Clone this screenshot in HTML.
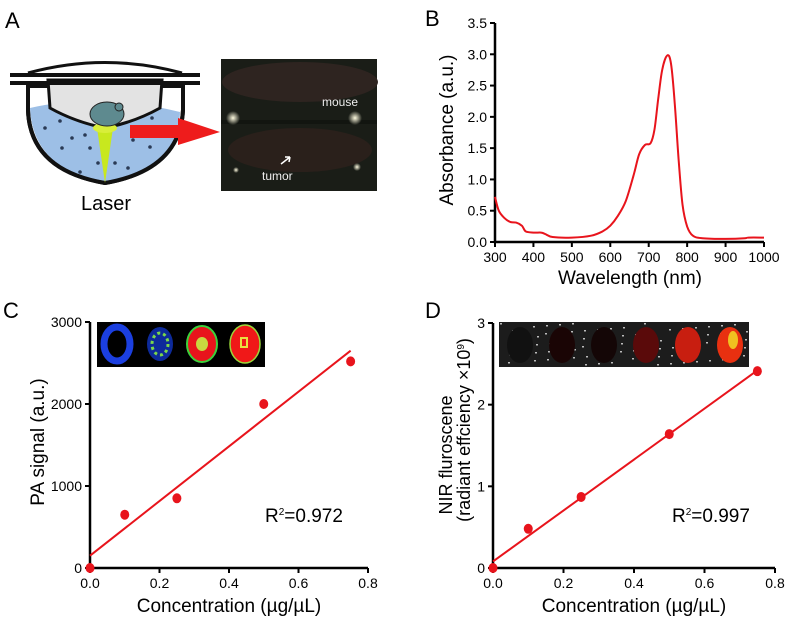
<!DOCTYPE html>
<html><head><meta charset="utf-8"><style>
body{margin:0;background:#fff;width:787px;height:620px;overflow:hidden;font-family:"Liberation Sans",sans-serif}
svg{position:absolute;left:0;top:0}
</style></head><body>
<svg width="787" height="620" viewBox="0 0 787 620" font-family="Liberation Sans, sans-serif">
<defs>
<radialGradient id="gl" cx="0.5" cy="0.5" r="0.5"><stop offset="0" stop-color="#fffbe0"/><stop offset="1" stop-color="#fffbe0" stop-opacity="0"/></radialGradient>
</defs>
<text x="5" y="28" font-size="22">A</text>
<text x="425" y="26" font-size="22">B</text>
<text x="3" y="318" font-size="22">C</text>
<text x="425" y="318" font-size="22">D</text>

<g>
<path d="M28,86 L28,110 Q30,170 105,183 Q180,170 183,110 L183,86 Z" fill="#fff" stroke="#111" stroke-width="4"/>
<path d="M30,108 Q100,92 180,112 Q178,172 105,181 Q33,170 30,108 Z" fill="#9dbfe6"/>
<path d="M28,86 L28,110 Q30,170 105,183 Q180,170 183,110 L183,86" fill="none" stroke="#111" stroke-width="4"/>
<path d="M48,80 L162,80 L160,108 Q135,122 105,128 Q75,122 50,108 Z" fill="#e3e3e3" stroke="#111" stroke-width="3"/>
<rect x="10" y="73" width="190" height="4" fill="#111"/>
<rect x="10" y="81" width="190" height="4" fill="#111"/>
<path d="M28,73 Q105,52 182,73" fill="none" stroke="#111" stroke-width="3"/>
<path d="M97,128 L113,128 L105,183 Z" fill="#c8e81e"/>
<ellipse cx="105" cy="128" rx="12" ry="5" fill="#d8ee3a"/>
<ellipse cx="107" cy="114" rx="17" ry="12" fill="#5e8a8f" stroke="#222" stroke-width="1"/>
<circle cx="119" cy="107" r="4" fill="#5e8a8f" stroke="#222" stroke-width="1"/>
<g fill="#2a3a55">
<circle cx="60" cy="121" r="1.8"/><circle cx="72" cy="138" r="1.8"/><circle cx="85" cy="135" r="1.8"/><circle cx="152" cy="118" r="1.8"/><circle cx="62" cy="148" r="1.8"/><circle cx="98" cy="163" r="1.8"/><circle cx="115" cy="163" r="1.8"/><circle cx="133" cy="140" r="1.8"/><circle cx="150" cy="147" r="1.8"/><circle cx="80" cy="172" r="1.8"/><circle cx="128" cy="168" r="1.8"/><circle cx="45" cy="128" r="1.8"/><circle cx="90" cy="148" r="1.8"/>
</g>
<text x="81" y="210" font-size="20">Laser</text>
<path d="M130,125 L178,125 L178,118 L220,132 L178,145 L178,138 L130,138 Z" fill="#ee1c1c"/>
</g>
<g>
<rect x="221" y="59" width="156" height="132" fill="#1a1d17"/>
<ellipse cx="300" cy="82" rx="78" ry="20" fill="#2e2420"/>
<ellipse cx="300" cy="150" rx="72" ry="22" fill="#2a201b"/>
<rect x="221" y="120" width="156" height="4" fill="#121510"/>
<circle cx="233" cy="118" r="7" fill="url(#gl)"/><circle cx="355" cy="118" r="7" fill="url(#gl)"/>
<circle cx="357" cy="167" r="4" fill="url(#gl)"/><circle cx="236" cy="170" r="3" fill="url(#gl)"/>
<text x="322" y="106" font-size="12" fill="#eee">mouse</text>
<text x="262" y="180" font-size="12" fill="#eee">tumor</text>
<path d="M281,164 L290,157 M290,157 L285,157 M290,157 L289,162" stroke="#fff" stroke-width="1.5"/>
</g>

<g id="gB"></g>
<g id="gC"></g>
<g id="gD"></g>
</svg>
<script>
const NS="http://www.w3.org/2000/svg";
function mk(p,t,a){const e=document.createElementNS(NS,t);for(const k in a)e.setAttribute(k,a[k]);p.appendChild(e);return e;}

// Panel B data
const bWavelength=[300,310,325,340,355,370,380,400,420,430,450,500,550,580,600,620,640,660,675,690,705,715,725,735,748,758,768,778,788,800,815,840,900,950,960,1000];
const bAbsorb=[0.72,0.5,0.38,0.32,0.31,0.26,0.17,0.15,0.15,0.13,0.08,0.07,0.1,0.17,0.26,0.42,0.65,1.05,1.4,1.55,1.58,1.8,2.3,2.75,2.98,2.85,2.2,1.3,0.6,0.25,0.1,0.06,0.05,0.06,0.07,0.07];
const bXTicks=[300,400,500,600,700,800,900,1000];
const bYTicks=[0.0,0.5,1.0,1.5,2.0,2.5,3.0,3.5];

// Panel C data
const cConc=[0,0.1,0.25,0.5,0.75];
const cSignal=[0,650,850,2000,2520];
const cFit=[150,2650];
const cXTicks=[0.0,0.2,0.4,0.6,0.8];
const cYTicks=[0,1000,2000,3000];

// Panel D data
const dConc=[0,0.1,0.25,0.5,0.75];
const dNir=[0,0.48,0.87,1.64,2.41];
const dFit=[0.08,2.42];
const dXTicks=[0.0,0.2,0.4,0.6,0.8];
const dYTicks=[0,1,2,3];

function axes(g,x0,x1,y0,y1,xs,ys,xt,yt,xf,yf){
  mk(g,'path',{d:`M${x0},${y1} L${x0},${y0} L${x1},${y0}`,fill:'none',stroke:'#000','stroke-width':2.5});
  xt.forEach(v=>{const x=xs(v);mk(g,'line',{x1:x,x2:x,y1:y0,y2:y0+5,stroke:'#000','stroke-width':2});
    const t=mk(g,'text',{x:x,y:y0+20,'font-size':14,'text-anchor':'middle'});t.textContent=xf(v);});
  yt.forEach(v=>{const y=ys(v);mk(g,'line',{x1:x0-5,x2:x0,y1:y,y2:y,stroke:'#000','stroke-width':2});
    const t=mk(g,'text',{x:x0-8,y:y+5,'font-size':14,'text-anchor':'end'});t.textContent=yf(v);});
}
function smooth(pts){
  let d='M'+pts[0][0].toFixed(1)+','+pts[0][1].toFixed(1);
  for(let i=0;i<pts.length-1;i++){
    const p0=pts[Math.max(0,i-1)],p1=pts[i],p2=pts[i+1],p3=pts[Math.min(pts.length-1,i+2)];
    const c1=[p1[0]+(p2[0]-p0[0])/6,p1[1]+(p2[1]-p0[1])/6];
    const c2=[p2[0]-(p3[0]-p1[0])/6,p2[1]-(p3[1]-p1[1])/6];
    d+=` C${c1[0].toFixed(1)},${c1[1].toFixed(1)} ${c2[0].toFixed(1)},${c2[1].toFixed(1)} ${p2[0].toFixed(1)},${p2[1].toFixed(1)}`;
  }
  return d;
}

// B
(function(){
const g=document.getElementById('gB');
const xs=v=>495+(v-300)/700*269, ys=v=>242-v/3.5*219;
axes(g,495,764,242,23,xs,ys,bXTicks,bYTicks,v=>String(v),v=>v.toFixed(1));
const p=mk(g,'path',{d:smooth(bWavelength.map((w,i)=>[xs(w),ys(bAbsorb[i])])),fill:'none',stroke:'#e8141c','stroke-width':2,'stroke-linejoin':'round'});


const xt=mk(g,'text',{x:630,y:284,'font-size':19,'text-anchor':'middle'});xt.textContent='Wavelength (nm)';

const yt=mk(g,'text',{x:0,y:0,'font-size':19,'text-anchor':'middle',transform:'translate(453,130) rotate(-90)'});yt.textContent='Absorbance  (a.u.)';

})();

// C
(function(){
const g=document.getElementById('gC');
const xs=v=>90+v/0.8*278, ys=v=>568-v/3000*246;
const ins=mk(g,'g',{});


mk(ins,'rect',{x:97,y:322,width:168,height:45,fill:'#000'});
mk(ins,'ellipse',{cx:117,cy:344,rx:13,ry:17,fill:'none',stroke:'#1b3fe0','stroke-width':7});
mk(ins,'ellipse',{cx:160,cy:344,rx:13,ry:17,fill:'#0d2a9a'});
mk(ins,'ellipse',{cx:160,cy:344,rx:8,ry:11,fill:'none',stroke:'#7ad84a','stroke-width':3,'stroke-dasharray':'3 3'});
mk(ins,'ellipse',{cx:202,cy:344,rx:15,ry:18,fill:'#e8141c',stroke:'#3cd23c','stroke-width':2});
mk(ins,'ellipse',{cx:202,cy:344,rx:6,ry:7,fill:'#c8d840'});
mk(ins,'ellipse',{cx:245,cy:344,rx:15,ry:19,fill:'#f01818',stroke:'#9ad83a','stroke-width':1.5});
mk(ins,'rect',{x:241,y:338,width:6,height:9,fill:'none',stroke:'#e8e040','stroke-width':2});
axes(g,90,368,568,322,xs,ys,cXTicks,cYTicks,v=>v.toFixed(1),v=>String(v));
const f=mk(g,'line',{x1:xs(0),y1:ys(cFit[0]),x2:xs(0.75),y2:ys(cFit[1]),stroke:'#e8141c','stroke-width':2});

cConc.forEach((c,i)=>{const d=mk(g,'ellipse',{cx:xs(c),cy:ys(cSignal[i]),rx:4.5,ry:5,fill:'#e8141c'});
 });
const r=mk(g,'text',{x:265,y:522,'font-size':19});r.innerHTML='R<tspan font-size="10" dy="-7">2</tspan><tspan dy="7">=0.972</tspan>';

const xt=mk(g,'text',{x:229,y:612,'font-size':19,'text-anchor':'middle'});xt.textContent='Concentration (µg/µL)';

const yt=mk(g,'text',{x:0,y:0,'font-size':19,'text-anchor':'middle',transform:'translate(44,442) rotate(-90)'});yt.textContent='PA signal (a.u.)';

})();

// D
(function(){
const g=document.getElementById('gD');
const xs=v=>493+v/0.8*282, ys=v=>568-v/3*245;
const ins=mk(g,'g',{});


mk(ins,'rect',{x:499,y:322,width:250,height:45,fill:'#1c1c1c'});
for(let i=0;i<90;i++){mk(ins,'rect',{x:500+((i*37)%247),y:323+((i*13)%42),width:2,height:1.5,fill:'#bbb'});}
const cols=['#111','#1a0505','#140606','#5a0a0a','#c81e10','#e83010'];
cols.forEach((c,i)=>{mk(ins,'ellipse',{cx:520+i*42,cy:345,rx:13,ry:18,fill:c});});
mk(ins,'ellipse',{cx:733,cy:340,rx:5,ry:9,fill:'#f0c020'});
axes(g,493,775,568,323,xs,ys,dXTicks,dYTicks,v=>v.toFixed(1),v=>String(v));
const f=mk(g,'line',{x1:xs(0),y1:ys(dFit[0]),x2:xs(0.75),y2:ys(dFit[1]),stroke:'#e8141c','stroke-width':2});

dConc.forEach((c,i)=>{const d=mk(g,'ellipse',{cx:xs(c),cy:ys(dNir[i]),rx:4.5,ry:5,fill:'#e8141c'});
 });
const r=mk(g,'text',{x:672,y:522,'font-size':19});r.innerHTML='R<tspan font-size="10" dy="-7">2</tspan><tspan dy="7">=0.997</tspan>';

const xt=mk(g,'text',{x:634,y:612,'font-size':19,'text-anchor':'middle'});xt.textContent='Concentration (µg/µL)';

const yt=mk(g,'text',{x:0,y:0,'font-size':18,'text-anchor':'middle',transform:'translate(452,455) rotate(-90)'});yt.textContent='NIR fluroscene';

const yt2=mk(g,'text',{x:0,y:0,'font-size':18,'text-anchor':'middle',transform:'translate(470,430) rotate(-90)'});yt2.innerHTML='(radiant effciency ×10<tspan font-size="10" dy="-6">9</tspan><tspan dy="6">)</tspan>';

})();
</script>
</body></html>
